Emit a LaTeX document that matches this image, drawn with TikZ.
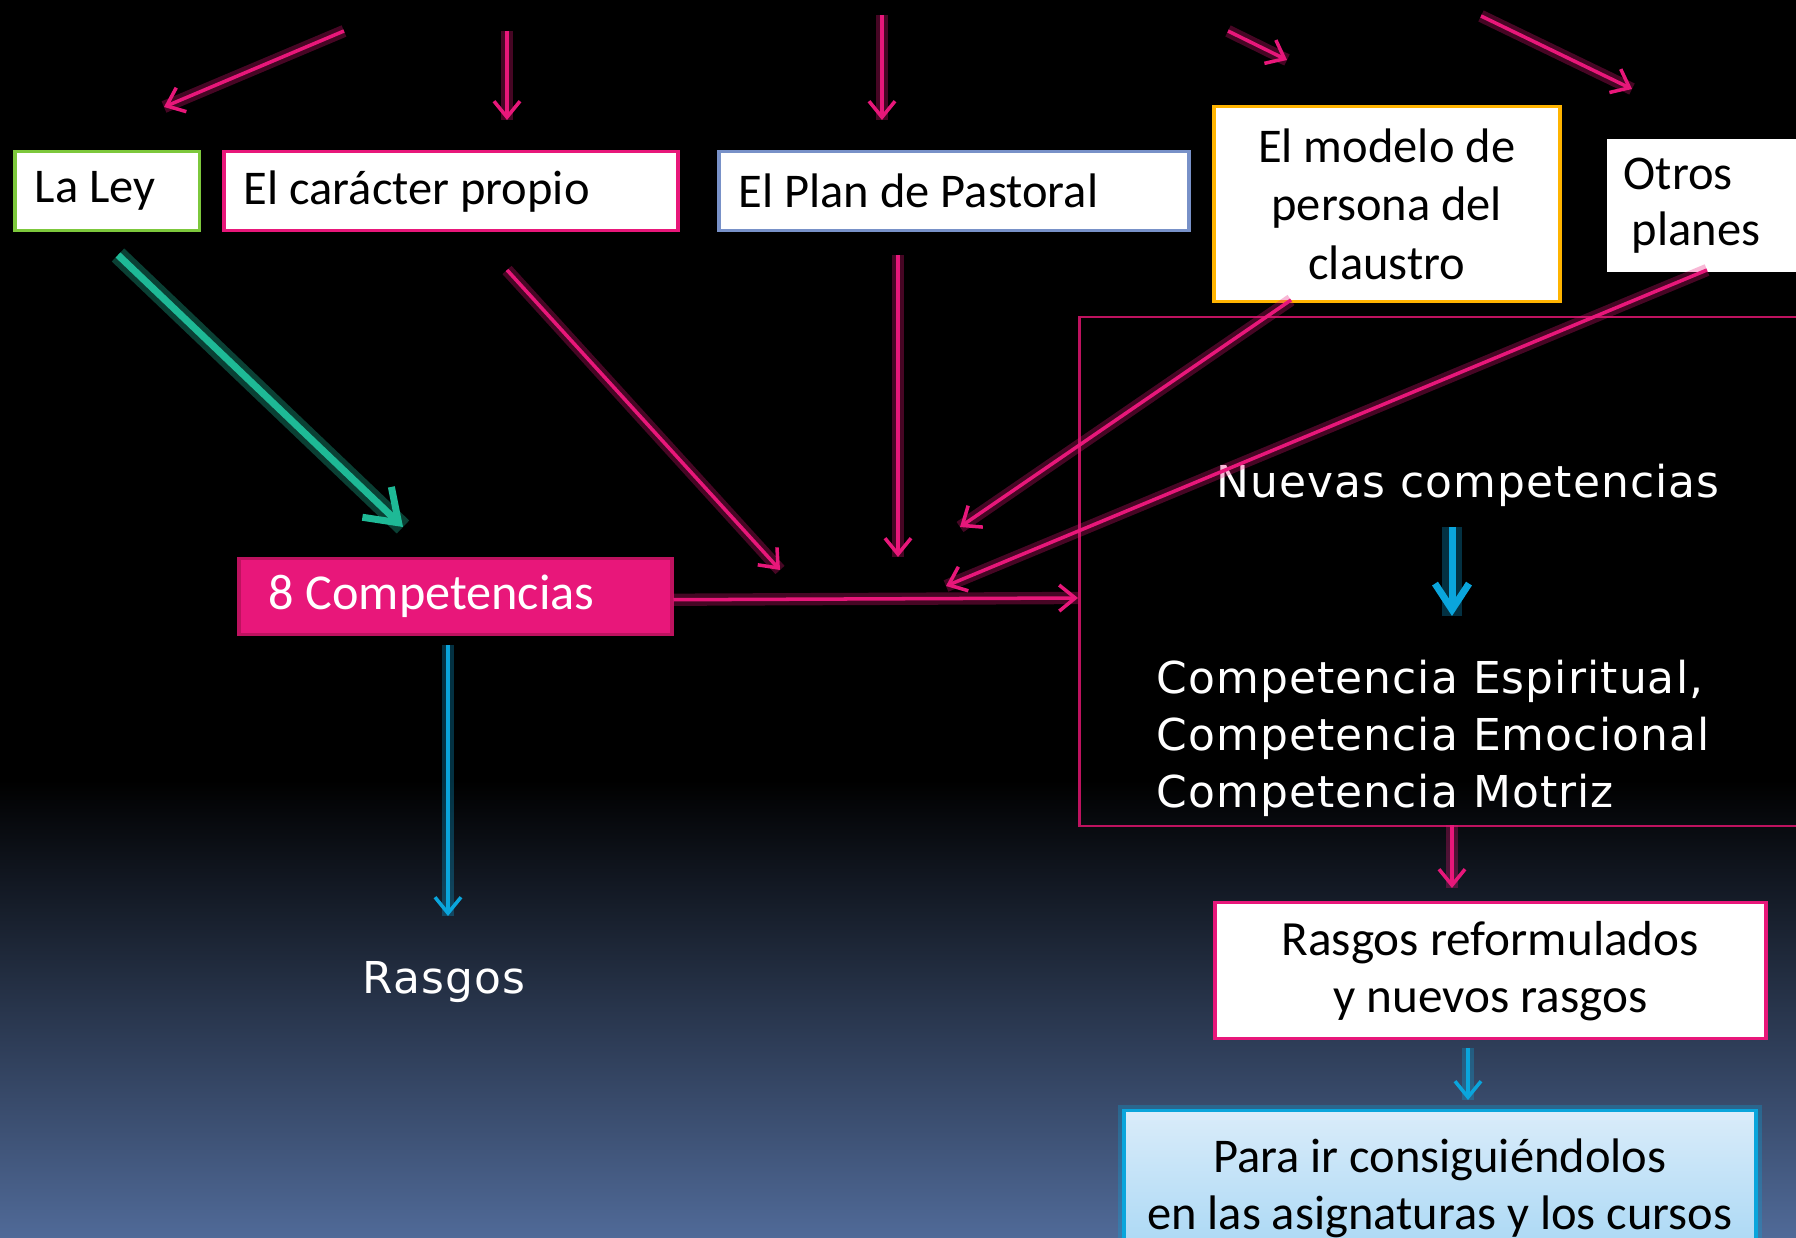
\documentclass[tikz,border=0pt]{standalone}
\usepackage{fontspec}
\setmainfont{Carlito}
\newfontfamily\spaced[LetterSpace=2.5]{DejaVu Sans}
\usetikzlibrary{arrows.meta}
\definecolor{pk}{RGB}{232,23,122}
\definecolor{pkdark}{RGB}{190,18,95}
\definecolor{teal}{RGB}{30,185,150}
\definecolor{cy}{RGB}{10,165,220}
\definecolor{bgblue}{RGB}{80,106,152}
\definecolor{lgreen}{RGB}{125,200,60}
\definecolor{lblue}{RGB}{120,145,200}
\definecolor{orng}{RGB}{255,180,0}
\definecolor{boxtop}{RGB}{218,236,250}
\definecolor{boxmid}{RGB}{165,214,244}
\tikzset{
  txt/.style={font=\fontsize{13.8}{16.6}\selectfont},
  box/.style={txt, draw, fill=white, line width=0.35mm, inner xsep=2mm, inner ysep=0pt,
    text=black, anchor=north west, align=flush left},
  pkarrow/.style={draw=pk, line width=1pt, -{Straight Barb[length=1.6mm,width=2.6mm]},
    preaction={draw=pk, opacity=0.3, line width=3.5pt, -}},
  cyarrow/.style={draw=cy, line width=1pt, -{Straight Barb[length=1.6mm,width=2.6mm]},
    preaction={draw=cy, opacity=0.3, line width=3.5pt, -}},
  cythick/.style={draw=cy, line width=0.7mm, -{Straight Barb[length=2.6mm,width=3.4mm]},
    preaction={draw=cy, opacity=0.3, line width=2mm, -}},
  tlarrow/.style={draw=teal, line width=0.7mm, -{Straight Barb[length=3mm,width=4.2mm]},
    preaction={draw=teal, opacity=0.35, line width=1.8mm, -}},
  wtxt/.style={font=\fontsize{12.5}{16.2}\spaced, text=white},
}
\begin{document}
\begin{tikzpicture}[x=0.1mm,y=-0.1mm]
\fill[black] (0,0) rectangle (1796,781);
\shade[top color=black, bottom color=bgblue] (0,780) rectangle (1796,1238);
\useasboundingbox (0,0) rectangle (1796,1238);
\clip (0,0) rectangle (1796,1238);

% boxes
\node[box, draw=lgreen, text width=14.5mm, minimum height=7.9mm] (ley) at (13,150) {La Ley};
\node[box, draw=pk, text width=41.4mm, minimum height=7.9mm] (car) at (222,150) {El carácter propio};
\node[box, draw=lblue, text width=43mm, minimum height=7.9mm] (plan) at (717,150) {El Plan de Pastoral};
\node[box, draw=orng, text width=30.6mm, minimum height=19.5mm, align=flush center] (modelo) at (1212,105) {El modelo de\\persona del\\claustro};
\node[box, draw=none, text width=19mm, minimum height=13.3mm, inner xsep=1.7mm, font=\fontsize{13.8}{15.9}\selectfont] (otros) at (1605,137) {Otros\\\hspace*{0.8mm}planes};
\node[box, fill=pk, draw=pkdark, text=white, text width=37.3mm, inner xsep=3mm, minimum height=7.6mm, font=\fontsize{14.3}{16}\selectfont] (comp) at (237,557) {8 Competencias};
\node[draw=pkdark, line width=0.25mm, anchor=north west, minimum width=73.2mm, minimum height=50.9mm, inner sep=0pt] (big) at (1078,316) {};
\node[wtxt] (nuevas) at (1468,485) {Nuevas competencias};
\node[wtxt, anchor=west, align=flush left] (comps) at (1144,738)
  {Competencia Espiritual,\\Competencia Emocional\\Competencia Motriz};
\node[wtxt] (rasgos) at (444,982) {Rasgos};
\node[box, draw=pk, text width=51.1mm, minimum height=13.6mm, align=flush center, font=\fontsize{14}{16.2}\selectfont] (ref) at (1213,901) {Rasgos reformulados\\ y nuevos rasgos};
\node[box, draw=cy, top color=boxtop, bottom color=boxmid, text width=61.2mm, inner xsep=1mm, minimum height=15.5mm,
  align=flush center, font=\fontsize{13.8}{16.2}\selectfont,
  preaction={draw=cy, opacity=0.3, line width=1.2mm}] (para) at (1122,1109)
  {Para ir consiguiéndolos\\en las asignaturas y los cursos};

% coordinates
\coordinate (t1a) at (344,31);  \coordinate (t1b) at (164,107);
\coordinate (t2a) at (507,31);  \coordinate (t2b) at (507,120);
\coordinate (t3a) at (882,15);  \coordinate (t3b) at (882,120);
\coordinate (t4a) at (1228,31); \coordinate (t4b) at (1287,60);
\coordinate (t5a) at (1481,16); \coordinate (t5b) at (1632,89);
\coordinate (teA) at (118,255); \coordinate (teB) at (403,527);
\coordinate (p7a) at (507,270); \coordinate (p7b) at (780,570);
\coordinate (p8a) at (898,255); \coordinate (p8b) at (898,557);
\coordinate (p9a) at (1291,300); \coordinate (p9b) at (960,527);
\coordinate (p10a) at (1707,270); \coordinate (p10b) at (946,586);
\coordinate (bigin) at (1078,598);
\coordinate (c1a) at (1452,527); \coordinate (c1b) at (1452,616);
\coordinate (c2a) at (448,645);  \coordinate (c2b) at (448,916);
\coordinate (pda) at (1452,825); \coordinate (pdb) at (1452,888);
\coordinate (c3a) at (1468,1048); \coordinate (c3b) at (1468,1100);

% arrows
\draw[pkarrow] (t1a) -- (t1b);
\draw[pkarrow] (t2a) -- (t2b);
\draw[pkarrow] (t3a) -- (t3b);
\draw[pkarrow] (t4a) -- (t4b);
\draw[pkarrow] (t5a) -- (t5b);
\draw[tlarrow] (teA) -- (teB);
\draw[pkarrow] (p7a) -- (p7b);
\draw[pkarrow] (p8a) -- (p8b);
\draw[pkarrow] (p9a) -- (p9b);
\draw[pkarrow] (p10a) -- (p10b);
\draw[pkarrow] ([yshift=-0.3mm]comp.east) -- (bigin);
\draw[cythick] (c1a) -- (c1b);
\draw[cyarrow] (c2a) -- (c2b);
\draw[pkarrow] (pda) -- (pdb);
\draw[cyarrow] (c3a) -- (c3b);
\end{tikzpicture}
\end{document}
